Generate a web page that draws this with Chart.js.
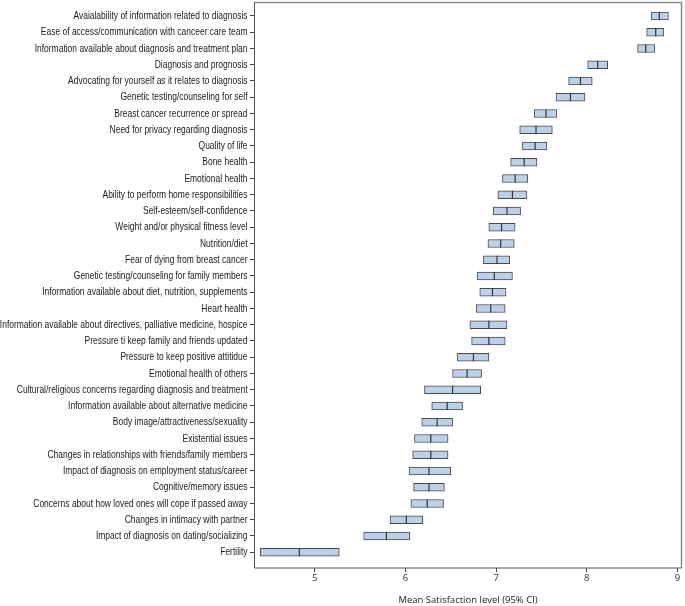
<!DOCTYPE html>
<html>
<head>
<meta charset="utf-8">
<script src="https://cdn.jsdelivr.net/npm/chart.js@4.4.1/dist/chart.umd.min.js"></script>
<style>
  html, body { margin: 0; padding: 0; background: #fff; }
  #wrap { width: 685px; height: 606px; }
</style>
</head>
<body>
<div id="wrap"><canvas id="myChart"></canvas></div>
<script>
// categorias (de arriba hacia abajo)
const categories = [
    "Avaialability of information related to diagnosis",
    "Ease of access/communication with canceer care team",
    "Information available about diagnosis and treatment plan",
    "Diagnosis and prognosis",
    "Advocating for yourself as it relates to diagnosis",
    "Genetic testing/counseling for self",
    "Breast cancer recurrence or spread",
    "Need for privacy regarding diagnosis",
    "Quality of life",
    "Bone health",
    "Emotional health",
    "Ability to perform home responsibilities",
    "Self-esteem/self-confidence",
    "Weight and/or physical fitness level",
    "Nutrition/diet",
    "Fear of dying from breast cancer",
    "Genetic testing/counseling for family members",
    "Information available about diet, nutrition, supplements",
    "Heart health",
    "Information available about directives, palliative medicine, hospice",
    "Pressure ti keep family and friends updated",
    "Pressure to keep positive attitidue",
    "Emotional health of others",
    "Cultural/religious concerns regarding diagnosis and treatment",
    "Information available about alternative medicine",
    "Body image/attractiveness/sexuality",
    "Existential issues",
    "Changes in relationships with friends/family members",
    "Impact of diagnosis on employment status/career",
    "Cognitive/memory issues",
    "Concerns about how loved ones will cope if passed away",
    "Changes in intimacy with partner",
    "Impact of diagnosis on dating/socializing",
    "Fertility"
];

// limite inferior IC 95%
const ciLow = [
    8.71, 8.66, 8.56, 8.01, 7.80, 7.66, 7.42, 7.26, 7.29, 7.16,
    7.07, 7.02, 6.97, 6.92, 6.91, 6.86, 6.79, 6.82, 6.78, 6.71,
    6.73, 6.57, 6.52, 6.21, 6.29, 6.18, 6.10, 6.08, 6.04, 6.09,
    6.06, 5.83, 5.54, 4.40
];

// media
const means = [
    8.80, 8.76, 8.65, 8.12, 7.93, 7.82, 7.55, 7.44, 7.43, 7.31,
    7.21, 7.18, 7.12, 7.06, 7.05, 7.01, 6.98, 6.96, 6.94, 6.92,
    6.92, 6.75, 6.68, 6.52, 6.46, 6.35, 6.28, 6.28, 6.26, 6.26,
    6.24, 6.01, 5.79, 4.83
];

// limite superior IC 95%
const ciHigh = [
    8.90, 8.85, 8.75, 8.23, 8.06, 7.98, 7.67, 7.62, 7.56, 7.45,
    7.35, 7.34, 7.27, 7.21, 7.20, 7.15, 7.18, 7.11, 7.10, 7.12,
    7.10, 6.92, 6.84, 6.83, 6.63, 6.52, 6.47, 6.47, 6.50, 6.43,
    6.42, 6.19, 6.05, 5.27
];

const xTicks = [5, 6, 7, 8, 9];

// marco gris alrededor del area del grafico
const framePlugin = {
    id: 'frame',
    afterDraw(chart) {
        const { ctx, chartArea: a } = chart;
        const top = a.top + 0.5;
        const right = a.right - 0.5;
        ctx.save();
        ctx.strokeStyle = '#8c8c8c';
        ctx.lineWidth = 1.5;
        ctx.beginPath();
        ctx.moveTo(a.left, top);
        ctx.lineTo(right, top);
        ctx.lineTo(right, a.bottom);
        ctx.stroke();
        ctx.strokeStyle = '#555';
        ctx.lineWidth = 1;
        ctx.beginPath();
        ctx.moveTo(a.left + 0.5, top);
        ctx.lineTo(a.left + 0.5, a.bottom);
        ctx.lineTo(right, a.bottom);
        ctx.stroke();
        ctx.restore();
    }
};

// etiquetas del eje y en letra estrecha (no hay fuente narrow instalada)
const narrowLabels = {
    id: 'narrowLabels',
    afterDraw(chart) {
        const { ctx } = chart;
        const yScale = chart.scales.y;
        ctx.save();
        ctx.font = "11px 'Liberation Sans', Arial, sans-serif";
        ctx.fillStyle = '#1a1a1a';
        ctx.textAlign = 'right';
        ctx.textBaseline = 'middle';
        categories.forEach((c, i) => {
            const y = yScale.getPixelForValue(i);
            ctx.save();
            ctx.translate(247.5, y);
            ctx.scale(0.77, 1);
            ctx.fillText(c, 0, 0);
            ctx.restore();
        });
        ctx.restore();
    }
};

const axisFont = { family: "'Open Sans', 'Noto Sans', sans-serif", size: 9.5 };

let mychart = document.getElementById("myChart").getContext("2d");

var chart = new Chart(mychart, {
    type: "bar",
    data: {
        datasets: [{
            type: 'bar',
            indexAxis: 'y',
            order: 2,
            data: categories.map((c, i) => ({ y: i, x: [ciLow[i], ciHigh[i]] })),
            backgroundColor: '#bcd0e9',
            borderColor: '#4a4a4a',
            borderWidth: 1,
            borderSkipped: false,
            barThickness: 8
        }, {
            type: 'scatter',
            order: 1,
            data: categories.map((c, i) => ({ y: i, x: means[i] })),
            pointStyle: 'line',
            pointRotation: 90,
            pointRadius: 4,
            pointBorderColor: '#333',
            pointBorderWidth: 1.2
        }]
    },
    options: {
        indexAxis: 'y',
        responsive: true,
        maintainAspectRatio: false,
        animation: false,
        layout: { autoPadding: false, padding: { top: 2, right: 3, left: 0, bottom: 0 } },
        scales: {
            x: {
                type: 'linear',
                min: 4.33,
                max: 9.05,
                afterBuildTicks: (scale) => { scale.ticks = xTicks.map(v => ({ value: v })); },
                afterFit: (scale) => { scale.height = 38; scale.paddingLeft = 0; scale.paddingRight = 0; },
                grid: { display: true, drawOnChartArea: false, offset: false, tickLength: 4, color: '#444' },
                border: { display: false },
                ticks: { font: axisFont, color: '#333', padding: 1 },
                title: {
                    display: true,
                    text: 'Mean Satisfaction level (95% CI)',
                    font: axisFont,
                    color: '#222',
                    padding: { top: 2, bottom: 0 }
                }
            },
            y: {
                type: 'linear',
                reverse: true,
                offset: false,
                min: -0.86,
                max: 33.97,
                afterBuildTicks: (scale) => { scale.ticks = categories.map((c, i) => ({ value: i })); },
                afterFit: (scale) => { scale.width = 254; scale.paddingTop = 0; scale.paddingBottom = 0; },
                grid: { display: true, drawOnChartArea: false, offset: false, tickLength: 4, color: '#444' },
                border: { display: false },
                ticks: { display: false, autoSkip: false }
            }
        },
        plugins: {
            legend: { display: false },
            tooltip: { enabled: false }
        }
    },
    plugins: [framePlugin, narrowLabels]
});
</script>
</body>
</html>
